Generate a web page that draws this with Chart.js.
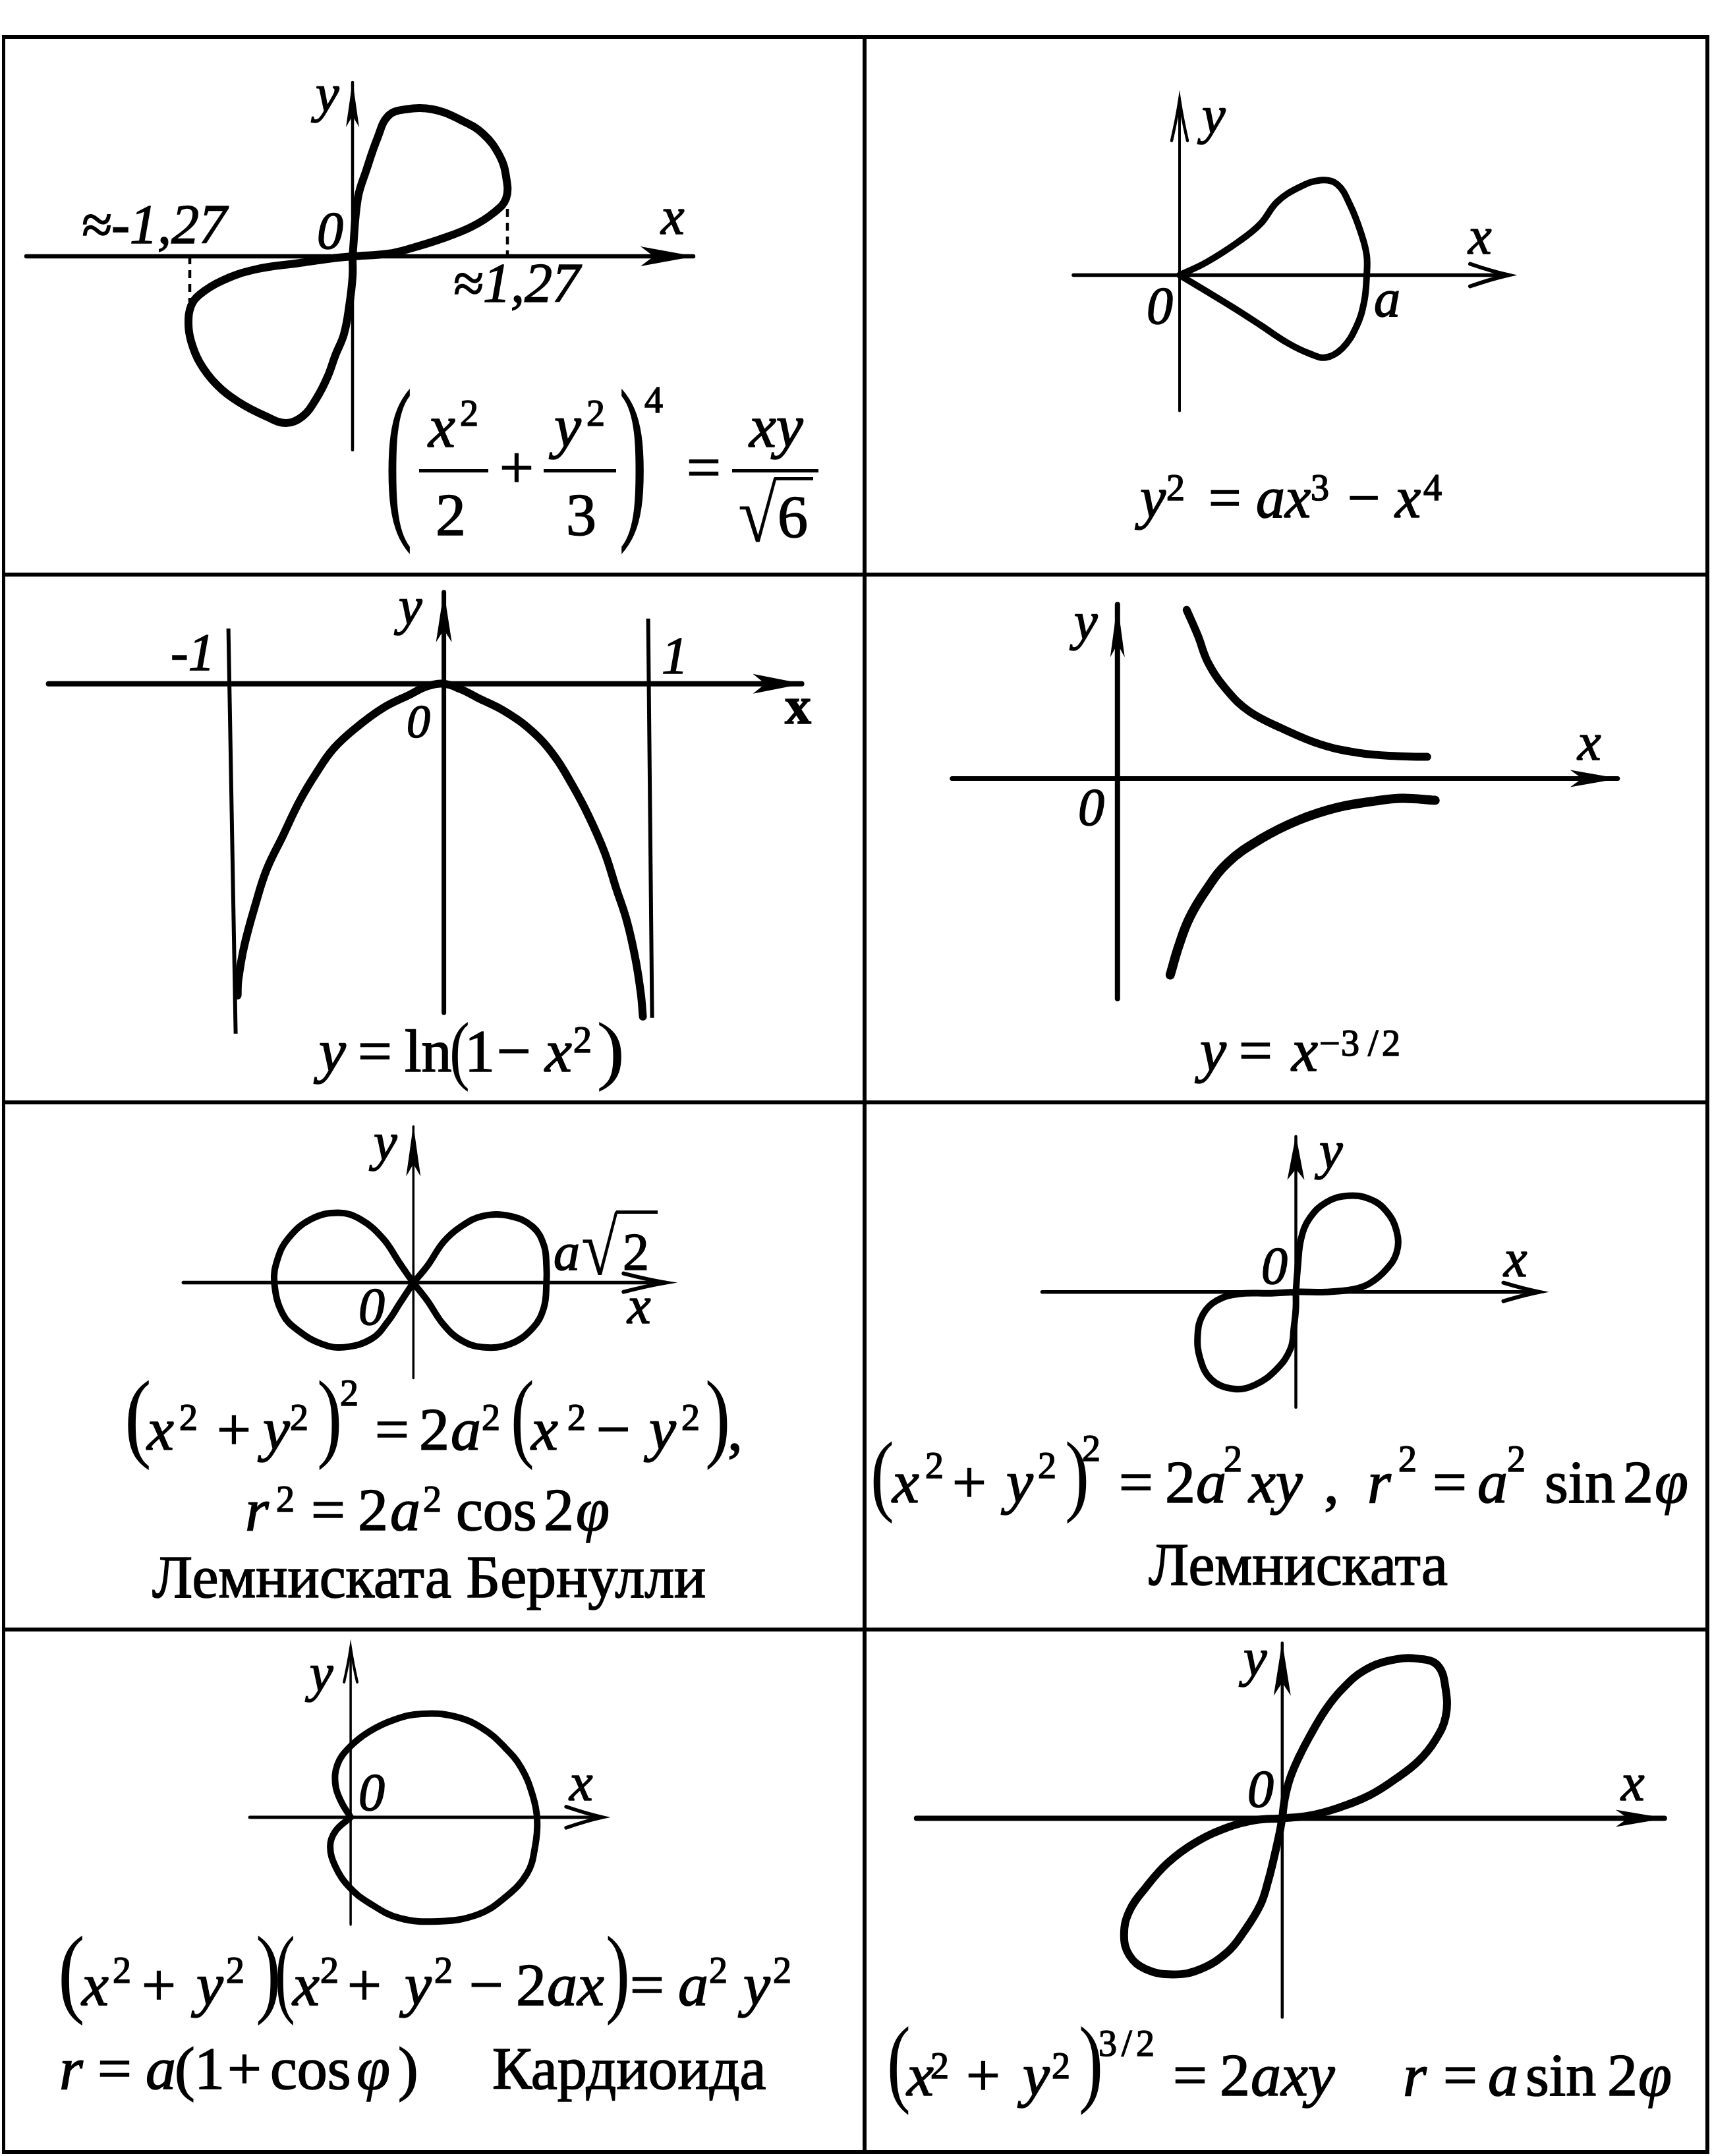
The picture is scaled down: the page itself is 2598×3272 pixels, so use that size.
<!DOCTYPE html>
<html>
<head>
<meta charset="utf-8">
<script src="https://cdn.jsdelivr.net/npm/chart.js@4.4.1/dist/chart.umd.min.js"></script>
<style>
    html, body { margin : 0; padding : 0; background : #fff; }
    #page { position : relative; width : 2598px; height : 3272px; overflow : hidden; background : #fff; }
    canvas { position : absolute; }
    .t { position : absolute; white-space : nowrap; line-height : 1; color : #000;
         font-family : "Liberation Serif", "Times New Roman", "DejaVu Serif", serif;
         -webkit-text-stroke : 1.6px #000; }
    .i { font-style : italic; }
    .b { font-weight : bold; }
    .rule { position : absolute; background : #000; }
</style>
</head>
<body>
<div id="page"></div>
<script>

// 1. (x²/2 + y²/3)^4 = xy/√6
const quarticX = [0, 0.08, 0.21, 0.38, 0.54, 0.80, 1.22, 1.64, 1.98, 2.23, 2.33, 2.33, 2.14, 1.81, 1.39, 0.88, 0.54, 0,
    -0.30, -0.80, -1.48, -1.98, -2.32, -2.45, -2.49, -2.45, -2.32, -2.07, -1.73, -1.31, -1.01, -0.76, -0.55, -0.38, -0.26, -0.13, -0.05, 0, 0];
const quarticY = [0, 0.88, 1.31, 1.80, 2.13, 2.23, 2.23, 2.07, 1.86, 1.53, 1.21, 0.88, 0.66, 0.45, 0.28, 0.12, 0.04, 0,
    -0.03, -0.10, -0.20, -0.37, -0.58, -0.75, -1.02, -1.29, -1.61, -1.94, -2.21, -2.43, -2.53, -2.43, -2.16, -1.83, -1.50, -1.18, -0.75, -0.31, 0];
const quarticAxisX = [-4.95, 5.17];
const quarticAxisY = [-2.94, 2.64];
const quarticDashX = [-2.47, 2.35];   // the ≈-1,27 and ≈1,27 marks
const quarticDashY = [-0.69, 0.72];

// 2. y² = ax³ − x⁴
const teardropX = [0, 0.40, 0.90, 1.23, 1.48, 1.81, 2.14, 2.39, 2.59, 2.76, 2.84, 2.84, 2.80, 2.68, 2.47, 2.22, 1.97, 1.64, 1.23, 0.81, 0.40, 0];
const teardropY = [0, 0.19, 0.51, 0.78, 1.11, 1.33, 1.44, 1.38, 1.06, 0.62, 0.30, 0, -0.41, -0.79, -1.11, -1.25, -1.19, -1.03, -0.76, -0.49, -0.24, 0];
const teardropAxisX = [-1.61, 4.99];
const teardropAxisY = [-2.06, 2.66];

// 3. y = ln(1 − x²)
const lnX = [-3.13, -3.12, -3.03, -2.86, -2.69, -2.44, -2.19, -1.94, -1.68, -1.35, -0.93, -0.51, -0.26, 0,
    0.25, 0.51, 0.93, 1.35, 1.68, 1.94, 2.19, 2.44, 2.61, 2.78, 2.91, 2.99, 3.02];
const lnY = [-4.73, -4.50, -3.98, -3.35, -2.82, -2.30, -1.78, -1.36, -0.99, -0.68, -0.37, -0.16, -0.04, 0,
    -0.08, -0.21, -0.42, -0.73, -1.10, -1.52, -1.99, -2.56, -3.09, -3.61, -4.19, -4.71, -5.05];
const lnLeftAsymX = [-3.27, -3.16];
const lnLeftAsymY = [0.84, -5.31];
const lnRightAsymX = [3.10, 3.16];
const lnRightAsymY = [0.99, -5.07];
const lnAxisX = [-6.00, 5.43];
const lnAxisY = [-4.99, 1.39];

// 4. y = x^(−3/2)
const powerUpperX = [1.05, 1.22, 1.38, 1.67, 2.00, 2.50, 3.08, 3.66, 4.24, 4.70];
const powerUpperY = [2.56, 2.17, 1.75, 1.33, 1.02, 0.76, 0.52, 0.39, 0.34, 0.33];
const powerLowerX = [0.80, 0.93, 1.09, 1.34, 1.67, 2.17, 2.75, 3.33, 3.91, 4.32, 4.82];
const powerLowerY = [-2.98, -2.54, -2.12, -1.70, -1.28, -0.92, -0.63, -0.44, -0.34, -0.30, -0.33];
const powerAxisX = [-2.51, 7.59];
const powerAxisY = [-3.34, 2.64];

// 5. Лемниската Бернулли
const bernoulliX = [0, 0.21, 0.46, 0.72, 1.05, 1.47, 1.81, 1.98, 2.02, 2.02, 1.98, 1.81, 1.47, 1.05, 0.72, 0.46, 0.21, 0,
    -0.21, -0.46, -0.80, -1.14, -1.56, -1.90, -2.06, -2.11, -1.98, -1.73, -1.39, -1.05, -0.63, -0.38, -0.21, 0];
const bernoulliY = [0, 0.25, 0.62, 0.85, 1.01, 1.01, 0.85, 0.57, 0.25, 0, -0.38, -0.69, -0.93, -0.98, -0.87, -0.64, -0.27, 0,
    0.30, 0.67, 0.96, 1.06, 0.96, 0.67, 0.36, 0, -0.48, -0.74, -0.93, -0.98, -0.85, -0.58, -0.32, 0];
const bernoulliAxisX = [-3.49, 3.83];
const bernoulliAxisY = [-1.45, 2.37];

// 6. Лемниската r² = a² sin 2φ
const leafX = [0, 0.03, 0.08, 0.21, 0.46, 0.79, 1.12, 1.37, 1.53, 1.53, 1.37, 1.12, 0.87, 0.46, 0,
    -0.37, -0.87, -1.20, -1.41, -1.49, -1.45, -1.28, -0.95, -0.62, -0.29, -0.08, -0.03, 0, 0];
const leafY = [0, 0.39, 0.81, 1.12, 1.36, 1.46, 1.41, 1.23, 0.92, 0.60, 0.34, 0.13, 0.04, 0, 0,
    -0.02, -0.03, -0.13, -0.34, -0.65, -1.02, -1.33, -1.47, -1.41, -1.17, -0.86, -0.54, -0.24, 0];
const leafAxisX = [-3.85, 3.69];
const leafAxisY = [-1.75, 2.36];

// 7. Кардиоида
const cardioidX = [0, -0.14, -0.23, -0.20, -0.02, 0.28, 0.66, 1.08, 1.58, 2.00, 2.34, 2.59, 2.76, 2.83,
    2.80, 2.68, 2.34, 1.92, 1.33, 0.74, 0.28, -0.02, -0.23, -0.31, -0.23, 0];
const cardioidY = [0, 0.23, 0.49, 0.80, 1.06, 1.30, 1.48, 1.57, 1.53, 1.35, 1.06, 0.75, 0.34, -0.03,
    -0.44, -0.85, -1.22, -1.48, -1.58, -1.53, -1.30, -1.06, -0.75, -0.44, -0.21, 0];
const cardioidAxisX = [-1.53, 3.82];
const cardioidAxisY = [-1.63, 2.57];

// 8. r = a sin 2φ
const roseX = [0, 0.04, 0.12, 0.25, 0.41, 0.66, 0.91, 1.24, 1.66, 2.07, 2.36, 2.48, 2.48, 2.32, 2.07, 1.74, 1.33, 0.83, 0.41, 0,
    -0.41, -0.83, -1.32, -1.74, -2.07, -2.32, -2.40, -2.32, -2.07, -1.66, -1.24, -0.83, -0.58, -0.33, -0.21, -0.12, -0.04, 0];
const roseY = [0, 0.30, 0.61, 0.92, 1.23, 1.65, 1.96, 2.24, 2.40, 2.42, 2.32, 1.96, 1.54, 1.18, 0.87, 0.61, 0.35, 0.15, 0.04, 0,
    -0.03, -0.14, -0.37, -0.68, -1.05, -1.41, -1.77, -2.08, -2.29, -2.37, -2.29, -2.03, -1.72, -1.31, -0.94, -0.58, -0.22, 0];
const roseAxisX = [-5.55, 5.80];
const roseAxisY = [-3.02, 2.66];

const UNIT = 100;   // pixels per data unit
const INK = '#000';
const FONT = '"Liberation Serif", "Times New Roman", "DejaVu Serif", serif';

// Define panel layout: cell box [left, top, right, bottom], origin pixel, stroke styles
const panels = [
    {
        box : [6, 56, 1312, 872], origin : [535, 389],
        curves : [[quarticX, quarticY, 12]],
        axes : { x : quarticAxisX, y : quarticAxisY, width : [6.5, 4.5], arrowX : ['fill', 80, 15], arrowY : ['fill', 68, 10] },
        segments : [
            [[quarticDashX[0], quarticDashX[0]], [0, quarticDashY[0]], 4.5, [12, 9]],
            [[quarticDashX[1], quarticDashX[1]], [quarticDashY[1], 0], 4.5, [12, 9]]
        ]
    },
    {
        box : [1312, 56, 2591, 872], origin : [1790, 417.5],
        curves : [[teardropX, teardropY, 10]],
        axes : { x : teardropAxisX, y : teardropAxisY, width : [5.5, 4], arrowX : ['open', 58, 17], arrowY : ['open', 62, 12] },
        segments : []
    },
    {
        box : [6, 872, 1312, 1673], origin : [673.6, 1037.8],
        curves : [[lnX, lnY, 12]],
        axes : { x : lnAxisX, y : lnAxisY, width : [8, 7], arrowX : ['fill', 74, 15], arrowY : ['fill', 76, 12] },
        segments : [
            [lnLeftAsymX, lnLeftAsymY, 6, []],
            [lnRightAsymX, lnRightAsymY, 6, []]
        ]
    },
    {
        box : [1312, 872, 2591, 1673], origin : [1695.8, 1181.6],
        curves : [[powerUpperX, powerUpperY, 12], [powerLowerX, powerLowerY, 14]],
        axes : { x : powerAxisX, y : powerAxisY, width : [7, 8], arrowX : ['fill', 72, 13], arrowY : ['fill', 80, 11] },
        segments : []
    },
    {
        box : [6, 1673, 1312, 2473], origin : [627.3, 1946.6],
        curves : [[bernoulliX, bernoulliY, 10]],
        axes : { x : bernoulliAxisX, y : bernoulliAxisY, width : [5.5, 3.5], arrowX : ['open', 64, 14], arrowY : ['fill', 76, 11] },
        segments : []
    },
    {
        box : [1312, 1673, 2591, 2473], origin : [1966.5, 1960.7],
        curves : [[leafX, leafY, 10]],
        axes : { x : leafAxisX, y : leafAxisY, width : [5.5, 4.5], arrowX : ['open', 54, 14], arrowY : ['fill', 66, 13] },
        segments : []
    },
    {
        box : [6, 2473, 1312, 3266], origin : [532.1, 2757.9],
        curves : [[cardioidX, cardioidY, 10]],
        axes : { x : cardioidAxisX, y : cardioidAxisY, width : [5, 3.5], arrowX : ['open', 55, 16], arrowY : ['open', 52, 10] },
        segments : []
    },
    {
        box : [1312, 2473, 2591, 3266], origin : [1945.8, 2759.4],
        curves : [[roseX, roseY, 12]],
        axes : { x : roseAxisX, y : roseAxisY, width : [8, 4.5], arrowX : ['fill', 74, 13], arrowY : ['fill', 80, 13] },
        segments : []
    }
];

// Text runs: [text, ink left, baseline, size, style]  i = italic, r = roman, b = bold
const labels = [
    // 1
    ['y', 472, 169, 80, 'i'], ['x', 1002, 355, 80, 'i'], ['0', 484, 377, 80, 'i'],
    ['≈-1,27', 126, 369, 84, 'i'], ['≈1,27', 690, 458, 84, 'i'],
    ['x', 648, 678, 92, 'i'], ['2', 700, 646, 56, 'r'], ['2', 665, 812, 92, 'r'], ['+', 762, 740, 92, 'r'],
    ['y', 833, 678, 92, 'i'], ['2', 892, 646, 56, 'r'], ['3', 863, 812, 92, 'r'], ['4', 979, 626, 56, 'r'],
    ['=', 1046, 740, 92, 'r'], ['xy', 1135, 678, 92, 'i'], ['6', 1183, 815, 92, 'r'],
    // 2
    ['y', 1722, 786, 88, 'i'], ['2', 1772, 759, 56, 'r'], ['=', 1838, 786, 88, 'r'], ['ax', 1908, 786, 88, 'i'],
    ['3', 1991, 759, 56, 'r'], ['−', 2049, 786, 88, 'r'], ['x', 2115, 786, 88, 'i'], ['4', 2161, 759, 56, 'r'],
    ['y', 1817, 202, 80, 'i'], ['x', 2227, 385, 80, 'i'], ['0', 1743, 491, 80, 'i'], ['a', 2087, 480, 80, 'i'],
    // 3
    ['-1', 261, 1017, 80, 'i'], ['1', 1006, 1022, 80, 'i'], ['0', 619, 1119, 72, 'i'], ['y', 598, 947, 80, 'i'],
    ['x', 1191, 1098, 80, 'b'],
    ['y', 476, 1626, 92, 'i'], ['=', 547, 1626, 92, 'r'], ['ln', 615, 1626, 92, 'r'], ['1', 713, 1626, 92, 'r'],
    ['−', 758, 1626, 92, 'r'], ['x', 825, 1626, 92, 'i'], ['2', 872, 1597, 56, 'r'],
    // 4
    ['y', 1623, 970, 80, 'i'], ['x', 2393, 1153, 80, 'i'], ['0', 1639, 1252, 80, 'i'],
    ['y', 1813, 1625, 90, 'i'], ['=', 1884, 1625, 90, 'r'], ['x', 1958, 1625, 90, 'i'],
    ['−', 2004, 1602, 56, 'r'], ['3', 2037, 1602, 56, 'r'], ['/', 2076, 1602, 56, 'r'], ['2', 2099, 1602, 56, 'r'],
    // 5
    ['y', 560, 1760, 80, 'i'], ['0', 547, 2010, 80, 'i'], ['a', 842, 1927, 80, 'i'],
    ['2', 948, 1927, 80, 'r'], ['x', 951, 2008, 80, 'i'],
    ['x', 221, 2200, 92, 'i'], ['2', 274, 2170, 56, 'r'], ['+', 333, 2200, 92, 'r'], ['y', 391, 2200, 92, 'i'],
    ['2', 442, 2170, 56, 'r'], ['2', 518, 2133, 56, 'r'], ['=', 573, 2200, 92, 'r'], ['2', 640, 2200, 92, 'r'],
    ['a', 686, 2200, 92, 'i'], ['2', 733, 2170, 56, 'r'], ['x', 804, 2200, 92, 'i'], ['2', 863, 2170, 56, 'r'],
    ['−', 909, 2200, 92, 'r'], ['y', 977, 2200, 92, 'i'], ['2', 1036, 2170, 56, 'r'], [',', 1107, 2200, 92, 'r'],
    ['r', 375, 2322, 92, 'i'], ['2', 421, 2294, 56, 'r'], ['=', 476, 2322, 92, 'r'], ['2', 547, 2322, 92, 'r'],
    ['a', 594, 2322, 92, 'i'], ['2', 644, 2294, 56, 'r'], ['cos', 695, 2322, 92, 'r'], ['2', 829, 2322, 92, 'r'],
    ['φ', 876, 2322, 92, 'i'],
    ['Лемниската Бернулли', 231, 2424, 90, 'r'],
    // 6
    ['y', 1995, 1773, 80, 'i'], ['x', 2281, 1937, 80, 'i'], ['0', 1917, 1948, 80, 'i'],
    ['x', 1352, 2280, 92, 'i'], ['2', 1406, 2243, 56, 'r'], ['+', 1449, 2280, 92, 'r'], ['y', 1519, 2280, 92, 'i'],
    ['2', 1577, 2243, 56, 'r'], ['2', 1644, 2217, 56, 'r'], ['=', 1702, 2280, 92, 'r'], ['2', 1772, 2280, 92, 'r'],
    ['a', 1817, 2280, 92, 'i'], ['2', 1859, 2233, 56, 'r'], ['xy', 1893, 2280, 92, 'i'], [',', 2012, 2280, 92, 'r'],
    ['r', 2078, 2280, 92, 'i'], ['2', 2124, 2233, 56, 'r'], ['=', 2178, 2280, 92, 'r'], ['a', 2244, 2280, 92, 'i'],
    ['2', 2289, 2233, 56, 'r'], ['sin', 2347, 2280, 92, 'r'], ['2', 2467, 2280, 92, 'r'], ['φ', 2513, 2280, 92, 'i'],
    ['Лемниската', 1743, 2405, 90, 'r'],
    // 7
    ['y', 463, 2566, 80, 'i'], ['0', 547, 2747, 80, 'i'], ['x', 863, 2732, 80, 'i'],
    ['x', 122, 3043, 92, 'i'], ['2', 173, 3009, 56, 'r'], ['+', 219, 3043, 92, 'r'], ['y', 290, 3043, 92, 'i'],
    ['2', 345, 3009, 56, 'r'], ['x', 442, 3043, 92, 'i'], ['2', 488, 3009, 56, 'r'], ['+', 531, 3043, 92, 'r'],
    ['y', 606, 3043, 92, 'i'], ['2', 661, 3009, 56, 'r'], ['−', 716, 3043, 92, 'r'], ['2', 787, 3043, 92, 'r'],
    ['ax', 832, 3043, 92, 'i'], ['=', 960, 3043, 92, 'r'], ['a', 1031, 3043, 92, 'i'], ['2', 1078, 3009, 56, 'r'],
    ['y', 1120, 3043, 92, 'i'], ['2', 1175, 3009, 56, 'r'],
    ['r', 93, 3170, 92, 'i'], ['=', 152, 3170, 92, 'r'], ['a', 223, 3170, 92, 'i'], ['(', 269, 3170, 92, 'r'],
    ['1', 303, 3170, 92, 'r'], ['+', 349, 3170, 92, 'r'], ['cos', 413, 3170, 92, 'r'], ['φ', 543, 3170, 92, 'i'],
    [')', 606, 3170, 92, 'r'], ['Кардиоида', 749, 3170, 90, 'r'],
    // 8
    ['y', 1880, 2543, 80, 'i'], ['0', 1896, 2742, 80, 'i'], ['x', 2459, 2732, 80, 'i'],
    ['x', 1374, 3180, 92, 'i'], ['2', 1414, 3154, 56, 'r'], ['+', 1470, 3180, 92, 'r'], ['y', 1544, 3180, 92, 'i'],
    ['2', 1598, 3154, 56, 'r'], ['3', 1669, 3120, 56, 'r'], ['/', 1702, 3120, 56, 'r'], ['2', 1726, 3120, 56, 'r'],
    ['=', 1784, 3180, 92, 'r'], ['2', 1855, 3180, 92, 'r'], ['axy', 1900, 3180, 92, 'i'], ['r', 2132, 3180, 92, 'i'],
    ['=', 2194, 3180, 92, 'r'], ['a', 2260, 3180, 92, 'i'], ['sin', 2318, 3180, 92, 'r'], ['2', 2443, 3180, 92, 'r'],
    ['φ', 2488, 3180, 92, 'i']
];

// Stretched glyphs fitted to an ink box: [char, x1, x2, top, bottom]
const delimiters = [
    ['(', 589, 623, 588, 843], [')', 943, 977, 588, 843], ['√', 1122, 1179, 725, 824],
    ['(', 686, 711, 1550, 1658], [')', 909, 943, 1550, 1658],
    ['√', 884, 938, 1838, 1936],
    ['(', 194, 227, 2094, 2233], [')', 484, 514, 2094, 2233], ['(', 779, 808, 2094, 2233], [')', 1073, 1103, 2094, 2233],
    ['(', 1325, 1354, 2188, 2314], [')', 1619, 1648, 2188, 2314],
    ['(', 93, 126, 2937, 3076], [')', 391, 421, 2937, 3076], ['(', 421, 446, 2937, 3076], [')', 922, 951, 2937, 3076],
    ['(', 1350, 1379, 3074, 3211], [')', 1640, 1669, 3074, 3211]
];

// Fraction bars and radical overlines: [x1, x2, y, thickness]
const bars = [
    [636, 741, 714, 5], [825, 935, 714, 5], [1111, 1242, 714, 5], [1175, 1234, 726, 5],
    [935, 998, 1839, 5]
];

// Table rules
const gridX = [5.7, 1312, 2591];
const gridY = [56, 872, 1673, 2473, 3266];

const page = document.getElementById('page');
const meter = document.createElement('canvas').getContext('2d');

// Ink box of a text run, relative to its origin and baseline
function ink(text, size, style) {
    meter.font = (style === 'i' ? 'italic ' : style === 'b' ? 'bold ' : '') + size + 'px ' + FONT;
    const m = meter.measureText(text);
    return {
        left : -m.actualBoundingBoxLeft,
        right : m.actualBoundingBoxRight,
        asc : m.actualBoundingBoxAscent,
        desc : m.actualBoundingBoxDescent
    };
}

function span(text, style, size, left, base) {
    const el = document.createElement('span');
    el.className = 't' + (style === 'i' ? ' i' : style === 'b' ? ' b' : '');
    el.textContent = text;
    el.style.fontSize = size + 'px';
    el.style.left = left + 'px';
    el.style.top = (base - 0.8375 * size) + 'px';
    page.appendChild(el);
    return el;
}

function put(text, x, base, size, style) {
    const k = ink(text, size, style);
    span(text, style, size, x - k.left, base);
}

function fitGlyph(ch, x1, x2, top, bottom) {
    const k = ink(ch, 100, 'r');
    const sy = (bottom - top) / (k.asc + k.desc);
    const size = 100 * sy;
    const sx = (x2 - x1) / ((k.right - k.left) * sy);
    const el = span(ch, 'r', size, x1 - k.left * sy * sx, top + k.asc * sy);
    el.style.transformOrigin = '0 0';
    el.style.transform = 'scaleX(' + sx.toFixed(3) + ')';
    el.style.webkitTextStroke = '0px';
}

function rule(x, y, w, h) {
    const el = document.createElement('div');
    el.className = 'rule';
    el.style.left = x + 'px';
    el.style.top = y + 'px';
    el.style.width = w + 'px';
    el.style.height = h + 'px';
    page.appendChild(el);
}

function lineSet(xs, ys, width, extra) {
    return Object.assign({
        data : xs.map((x, i) => ({ x : x, y : ys[i] })),
        showLine : true,
        borderColor : INK,
        backgroundColor : INK,
        borderWidth : width,
        pointRadius : 0,
        pointHoverRadius : 0,
        borderCapStyle : 'round',
        borderJoinStyle : 'round',
        tension : 0
    }, extra || {});
}

// Arrowheads at the last point of any dataset that asks for one
const arrowHeads = {
    id : 'arrowHeads',
    afterDatasetsDraw(chart) {
        const ctx = chart.ctx;
        chart.data.datasets.forEach((ds, i) => {
            if (!ds.arrow) return;
            const pts = chart.getDatasetMeta(i).data;
            const a = pts[pts.length - 2], b = pts[pts.length - 1];
            const ang = Math.atan2(b.y - a.y, b.x - a.x);
            const [kind, len, half] = ds.arrow;
            ctx.save();
            ctx.translate(b.x, b.y);
            ctx.rotate(ang);
            ctx.fillStyle = INK;
            ctx.strokeStyle = INK;
            ctx.beginPath();
            if (kind === 'fill') {
                ctx.moveTo(2, 0);
                ctx.lineTo(-len, -half);
                ctx.lineTo(-len * 0.75, 0);
                ctx.lineTo(-len, half);
                ctx.closePath();
                ctx.fill();
            } else {
                ctx.lineWidth = ds.borderWidth + 0.5;
                ctx.lineCap = 'round';
                ctx.moveTo(-len, -half);
                ctx.quadraticCurveTo(-len * 0.45, -half * 0.35, 0, 0);
                ctx.quadraticCurveTo(-len * 0.45, half * 0.35, -len, half);
                ctx.stroke();
            }
            ctx.restore();
        });
    }
};

// Build one chart per cell
panels.forEach((p) => {
    const [l, t, r, b] = p.box;
    const [ox, oy] = p.origin;
    const canvas = document.createElement('canvas');
    canvas.width = r - l;
    canvas.height = b - t;
    canvas.style.left = l + 'px';
    canvas.style.top = t + 'px';
    canvas.style.width = (r - l) + 'px';
    canvas.style.height = (b - t) + 'px';
    page.appendChild(canvas);

    const datasets = [];
    p.curves.forEach(([xs, ys, w]) => datasets.push(lineSet(xs, ys, w, { tension : 0.4 })));
    p.segments.forEach(([xs, ys, w, dash]) => datasets.push(lineSet(xs, ys, w, { borderDash : dash, borderCapStyle : 'butt' })));
    datasets.push(lineSet(p.axes.x, [0, 0], p.axes.width[0], { arrow : p.axes.arrowX }));
    datasets.push(lineSet([0, 0], p.axes.y, p.axes.width[1], { arrow : p.axes.arrowY }));

    new Chart(canvas, {
        type : 'scatter',
        data : { datasets : datasets },
        options : {
            responsive : false,
            maintainAspectRatio : false,
            devicePixelRatio : 1,
            animation : false,
            events : [],
            layout : { padding : 0 },
            plugins : { legend : { display : false }, tooltip : { enabled : false } },
            scales : {
                x : { type : 'linear', display : false, min : (l - ox) / UNIT, max : (r - ox) / UNIT },
                y : { type : 'linear', display : false, min : (oy - b) / UNIT, max : (oy - t) / UNIT }
            }
        },
        plugins : [arrowHeads]
    });
});

// Texts, stretched glyphs and rules
labels.forEach((d) => put(d[0], d[1], d[2], d[3], d[4]));
delimiters.forEach((d) => fitGlyph(d[0], d[1], d[2], d[3], d[4]));
bars.forEach(([x1, x2, y, h]) => rule(x1, y - h / 2, x2 - x1, h));

const LW = 5.5;
gridX.forEach((x) => rule(x - LW / 2, gridY[0] - LW / 2, LW, gridY[gridY.length - 1] - gridY[0] + LW));
gridY.forEach((y) => rule(gridX[0] - LW / 2, y - LW / 2, gridX[gridX.length - 1] - gridX[0] + LW, LW));
</script>
</body>
</html>
